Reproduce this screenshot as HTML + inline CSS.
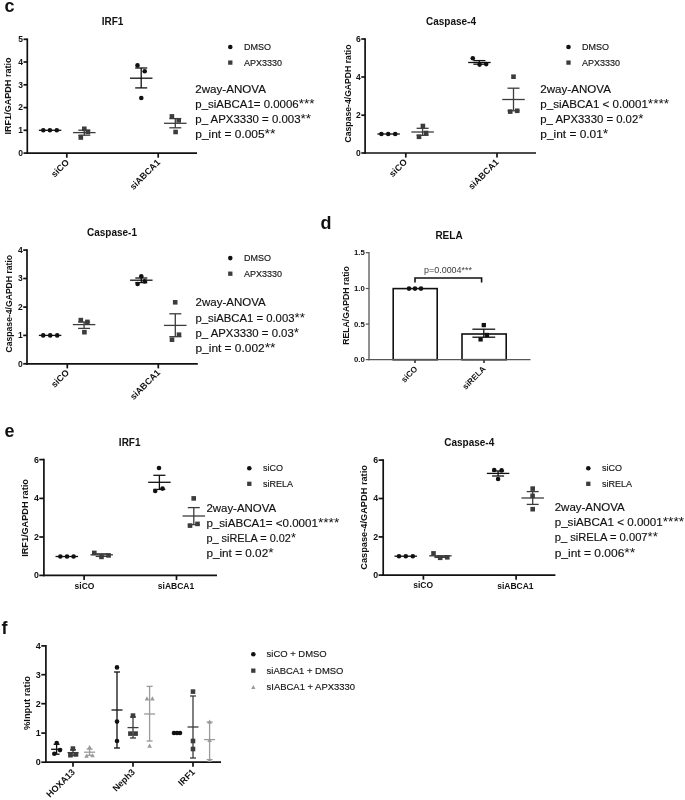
<!DOCTYPE html>
<html><head><meta charset="utf-8"><title>figure</title>
<style>
html,body{margin:0;padding:0;background:#fff;}
body{width:685px;height:800px;overflow:hidden;}
svg{display:block;font-family:"Liberation Sans",sans-serif;will-change:transform;filter:blur(0.3px);}
</style></head>
<body>
<svg width="685" height="800" viewBox="0 0 685 800">
<rect x="0" y="0" width="685" height="800" fill="#fff"/>
<text x="4.6" y="12.2" font-size="18" fill="#111" text-anchor="start" font-weight="bold" >c</text>
<text x="112.5" y="24.5" font-size="10" fill="#111" text-anchor="middle" font-weight="bold" >IRF1</text>
<line x1="27.3" y1="38.449999999999996" x2="27.3" y2="153.95" stroke="#111" stroke-width="1.7"/>
<line x1="23.5" y1="153.1" x2="27.3" y2="153.1" stroke="#111" stroke-width="1.7"/>
<text x="23.0" y="155.95" font-size="8.5" fill="#111" text-anchor="end" font-weight="bold" >0</text>
<line x1="23.5" y1="130.3" x2="27.3" y2="130.3" stroke="#111" stroke-width="1.7"/>
<text x="23.0" y="133.15" font-size="8.5" fill="#111" text-anchor="end" font-weight="bold" >1</text>
<line x1="23.5" y1="107.6" x2="27.3" y2="107.6" stroke="#111" stroke-width="1.7"/>
<text x="23.0" y="110.45" font-size="8.5" fill="#111" text-anchor="end" font-weight="bold" >2</text>
<line x1="23.5" y1="84.8" x2="27.3" y2="84.8" stroke="#111" stroke-width="1.7"/>
<text x="23.0" y="87.65" font-size="8.5" fill="#111" text-anchor="end" font-weight="bold" >3</text>
<line x1="23.5" y1="62.0" x2="27.3" y2="62.0" stroke="#111" stroke-width="1.7"/>
<text x="23.0" y="64.85" font-size="8.5" fill="#111" text-anchor="end" font-weight="bold" >4</text>
<line x1="23.5" y1="39.3" x2="27.3" y2="39.3" stroke="#111" stroke-width="1.7"/>
<text x="23.0" y="42.15" font-size="8.5" fill="#111" text-anchor="end" font-weight="bold" >5</text>
<line x1="26.45" y1="153.1" x2="197" y2="153.1" stroke="#111" stroke-width="1.7"/>
<line x1="66.8" y1="153.1" x2="66.8" y2="157.7" stroke="#111" stroke-width="1.7"/>
<line x1="158.2" y1="153.1" x2="158.2" y2="157.7" stroke="#111" stroke-width="1.7"/>
<text x="11.3" y="96.0" font-size="8.2" fill="#111" text-anchor="middle" font-weight="bold" textLength="77.0" lengthAdjust="spacingAndGlyphs" transform="rotate(-90 11.3 96.0)" >IRF1/GAPDH ratio</text>
<text x="69.6" y="163.0" font-size="9.0" fill="#111" text-anchor="end" font-weight="bold" transform="rotate(-45 69.6 163.0)" >siCO</text>
<text x="160.7" y="163.0" font-size="9.0" fill="#111" text-anchor="end" font-weight="bold" transform="rotate(-45 160.7 163.0)" >siABCA1</text>
<line x1="38.85" y1="130.3" x2="61.35" y2="130.3" stroke="#111" stroke-width="1.3"/>
<circle cx="43.3" cy="130.3" r="2.3" fill="#111"/>
<circle cx="49.9" cy="130.3" r="2.3" fill="#111"/>
<circle cx="56.8" cy="130.3" r="2.3" fill="#111"/>
<line x1="84.3" y1="130.2" x2="84.3" y2="135.2" stroke="#3c3c3c" stroke-width="1.3"/>
<line x1="78.3" y1="130.2" x2="90.3" y2="130.2" stroke="#3c3c3c" stroke-width="1.3"/>
<line x1="78.3" y1="135.2" x2="90.3" y2="135.2" stroke="#3c3c3c" stroke-width="1.3"/>
<line x1="73.05" y1="132.6" x2="95.55" y2="132.6" stroke="#3c3c3c" stroke-width="1.3"/>
<rect x="82.00" y="126.50" width="4.6" height="4.6" fill="#3c3c3c"/>
<rect x="85.60" y="129.60" width="4.6" height="4.6" fill="#3c3c3c"/>
<rect x="78.50" y="135.20" width="4.6" height="4.6" fill="#3c3c3c"/>
<line x1="141.2" y1="68.0" x2="141.2" y2="87.9" stroke="#111" stroke-width="1.3"/>
<line x1="135.2" y1="68.0" x2="147.2" y2="68.0" stroke="#111" stroke-width="1.3"/>
<line x1="135.2" y1="87.9" x2="147.2" y2="87.9" stroke="#111" stroke-width="1.3"/>
<line x1="129.95" y1="78.2" x2="152.45" y2="78.2" stroke="#111" stroke-width="1.3"/>
<circle cx="137.5" cy="65.4" r="2.3" fill="#111"/>
<circle cx="144.7" cy="71.2" r="2.3" fill="#111"/>
<circle cx="141.3" cy="98.0" r="2.3" fill="#111"/>
<line x1="175.3" y1="118.6" x2="175.3" y2="127.8" stroke="#3c3c3c" stroke-width="1.3"/>
<line x1="169.3" y1="118.6" x2="181.3" y2="118.6" stroke="#3c3c3c" stroke-width="1.3"/>
<line x1="169.3" y1="127.8" x2="181.3" y2="127.8" stroke="#3c3c3c" stroke-width="1.3"/>
<line x1="164.05" y1="123.3" x2="186.55" y2="123.3" stroke="#3c3c3c" stroke-width="1.3"/>
<rect x="169.60" y="114.10" width="4.6" height="4.6" fill="#3c3c3c"/>
<rect x="176.40" y="118.10" width="4.6" height="4.6" fill="#3c3c3c"/>
<rect x="173.30" y="129.70" width="4.6" height="4.6" fill="#3c3c3c"/>
<circle cx="230.3" cy="47.0" r="2.3" fill="#111"/>
<text x="243.9" y="49.9" font-size="9" fill="#141414" text-anchor="start" stroke="#141414" stroke-width="0.15">DMSO</text>
<rect x="228.15" y="60.45" width="4.3" height="4.3" fill="#3c3c3c"/>
<text x="243.9" y="65.5" font-size="9" fill="#141414" text-anchor="start" stroke="#141414" stroke-width="0.15">APX3330</text>
<text x="195.3" y="92.7" font-size="11" fill="#111" text-anchor="start" textLength="70.6" lengthAdjust="spacingAndGlyphs" stroke="#111" stroke-width="0.15">2way-ANOVA</text>
<text x="195.3" y="107.9" font-size="11" fill="#111" text-anchor="start" textLength="119.2" lengthAdjust="spacingAndGlyphs" stroke="#111" stroke-width="0.15">p_siABCA1= 0.0006<tspan font-size="13" stroke-width="0">***</tspan></text>
<text x="195.3" y="123.1" font-size="11" fill="#111" text-anchor="start" textLength="115.8" lengthAdjust="spacingAndGlyphs" stroke="#111" stroke-width="0.15">p_ APX3330 = 0.003<tspan font-size="13" stroke-width="0">**</tspan></text>
<text x="195.3" y="138.3" font-size="11" fill="#111" text-anchor="start" textLength="80.3" lengthAdjust="spacingAndGlyphs" stroke="#111" stroke-width="0.15">p_int = 0.005<tspan font-size="13" stroke-width="0">**</tspan></text>
<text x="451" y="24.5" font-size="10" fill="#111" text-anchor="middle" font-weight="bold" >Caspase-4</text>
<line x1="365.1" y1="38.15" x2="365.1" y2="153.85" stroke="#111" stroke-width="1.7"/>
<line x1="361.3" y1="153.0" x2="365.1" y2="153.0" stroke="#111" stroke-width="1.7"/>
<text x="360.8" y="155.85" font-size="8.5" fill="#111" text-anchor="end" font-weight="bold" >0</text>
<line x1="361.3" y1="115.2" x2="365.1" y2="115.2" stroke="#111" stroke-width="1.7"/>
<text x="360.8" y="118.05" font-size="8.5" fill="#111" text-anchor="end" font-weight="bold" >2</text>
<line x1="361.3" y1="77.0" x2="365.1" y2="77.0" stroke="#111" stroke-width="1.7"/>
<text x="360.8" y="79.85" font-size="8.5" fill="#111" text-anchor="end" font-weight="bold" >4</text>
<line x1="361.3" y1="39.0" x2="365.1" y2="39.0" stroke="#111" stroke-width="1.7"/>
<text x="360.8" y="41.85" font-size="8.5" fill="#111" text-anchor="end" font-weight="bold" >6</text>
<line x1="364.25" y1="153.0" x2="536" y2="153.0" stroke="#111" stroke-width="1.7"/>
<line x1="405.8" y1="153.0" x2="405.8" y2="157.6" stroke="#111" stroke-width="1.7"/>
<line x1="497.0" y1="153.0" x2="497.0" y2="157.6" stroke="#111" stroke-width="1.7"/>
<text x="350.9" y="93.5" font-size="8.2" fill="#111" text-anchor="middle" font-weight="bold" textLength="98.0" lengthAdjust="spacingAndGlyphs" transform="rotate(-90 350.9 93.5)" >Caspase-4/GAPDH ratio</text>
<text x="407.7" y="162.6" font-size="9.0" fill="#111" text-anchor="end" font-weight="bold" transform="rotate(-45 407.7 162.6)" >siCO</text>
<text x="499.3" y="162.8" font-size="9.0" fill="#111" text-anchor="end" font-weight="bold" transform="rotate(-45 499.3 162.8)" >siABCA1</text>
<line x1="377.35" y1="134.0" x2="399.85" y2="134.0" stroke="#111" stroke-width="1.3"/>
<circle cx="381.4" cy="134.0" r="2.3" fill="#111"/>
<circle cx="388.2" cy="134.0" r="2.3" fill="#111"/>
<circle cx="395.2" cy="134.0" r="2.3" fill="#111"/>
<line x1="422.6" y1="128.3" x2="422.6" y2="135.3" stroke="#3c3c3c" stroke-width="1.3"/>
<line x1="416.6" y1="128.3" x2="428.6" y2="128.3" stroke="#3c3c3c" stroke-width="1.3"/>
<line x1="416.6" y1="135.3" x2="428.6" y2="135.3" stroke="#3c3c3c" stroke-width="1.3"/>
<line x1="411.35" y1="132.0" x2="433.85" y2="132.0" stroke="#3c3c3c" stroke-width="1.3"/>
<rect x="420.60" y="123.70" width="4.6" height="4.6" fill="#3c3c3c"/>
<rect x="423.80" y="130.70" width="4.6" height="4.6" fill="#3c3c3c"/>
<rect x="416.70" y="134.50" width="4.6" height="4.6" fill="#3c3c3c"/>
<line x1="479.4" y1="60.6" x2="479.4" y2="64.2" stroke="#111" stroke-width="1.3"/>
<line x1="473.4" y1="60.6" x2="485.4" y2="60.6" stroke="#111" stroke-width="1.3"/>
<line x1="473.4" y1="64.2" x2="485.4" y2="64.2" stroke="#111" stroke-width="1.3"/>
<line x1="468.15" y1="62.5" x2="490.65" y2="62.5" stroke="#111" stroke-width="1.3"/>
<circle cx="472.8" cy="58.2" r="2.3" fill="#111"/>
<circle cx="479.6" cy="64.6" r="2.3" fill="#111"/>
<circle cx="486.2" cy="64.1" r="2.3" fill="#111"/>
<line x1="513.5" y1="88.2" x2="513.5" y2="110.8" stroke="#3c3c3c" stroke-width="1.3"/>
<line x1="507.5" y1="88.2" x2="519.5" y2="88.2" stroke="#3c3c3c" stroke-width="1.3"/>
<line x1="507.5" y1="110.8" x2="519.5" y2="110.8" stroke="#3c3c3c" stroke-width="1.3"/>
<line x1="502.25" y1="99.5" x2="524.75" y2="99.5" stroke="#3c3c3c" stroke-width="1.3"/>
<rect x="511.20" y="74.40" width="4.6" height="4.6" fill="#3c3c3c"/>
<rect x="507.90" y="109.30" width="4.6" height="4.6" fill="#3c3c3c"/>
<rect x="514.90" y="108.50" width="4.6" height="4.6" fill="#3c3c3c"/>
<circle cx="568.5" cy="47.0" r="2.3" fill="#111"/>
<text x="582.1" y="49.9" font-size="9" fill="#141414" text-anchor="start" stroke="#141414" stroke-width="0.15">DMSO</text>
<rect x="566.35" y="60.45" width="4.3" height="4.3" fill="#3c3c3c"/>
<text x="582.1" y="65.5" font-size="9" fill="#141414" text-anchor="start" stroke="#141414" stroke-width="0.15">APX3330</text>
<text x="540.3" y="92.7" font-size="11" fill="#111" text-anchor="start" textLength="70.6" lengthAdjust="spacingAndGlyphs" stroke="#111" stroke-width="0.15">2way-ANOVA</text>
<text x="540.3" y="107.9" font-size="11" fill="#111" text-anchor="start" textLength="128.8" lengthAdjust="spacingAndGlyphs" stroke="#111" stroke-width="0.15">p_siABCA1 &lt; 0.0001<tspan font-size="13" stroke-width="0">****</tspan></text>
<text x="540.3" y="123.1" font-size="11" fill="#111" text-anchor="start" textLength="103.1" lengthAdjust="spacingAndGlyphs" stroke="#111" stroke-width="0.15">p_ APX3330 = 0.02<tspan font-size="13" stroke-width="0">*</tspan></text>
<text x="540.3" y="138.3" font-size="11" fill="#111" text-anchor="start" textLength="68.0" lengthAdjust="spacingAndGlyphs" stroke="#111" stroke-width="0.15">p_int = 0.01<tspan font-size="13" stroke-width="0">*</tspan></text>
<text x="112" y="236" font-size="10" fill="#111" text-anchor="middle" font-weight="bold" >Caspase-1</text>
<line x1="27.0" y1="249.25" x2="27.0" y2="364.65000000000003" stroke="#111" stroke-width="1.7"/>
<line x1="23.2" y1="363.8" x2="27.0" y2="363.8" stroke="#111" stroke-width="1.7"/>
<text x="22.7" y="366.65" font-size="8.5" fill="#111" text-anchor="end" font-weight="bold" >0</text>
<line x1="23.2" y1="335.4" x2="27.0" y2="335.4" stroke="#111" stroke-width="1.7"/>
<text x="22.7" y="338.25" font-size="8.5" fill="#111" text-anchor="end" font-weight="bold" >1</text>
<line x1="23.2" y1="307.1" x2="27.0" y2="307.1" stroke="#111" stroke-width="1.7"/>
<text x="22.7" y="309.95" font-size="8.5" fill="#111" text-anchor="end" font-weight="bold" >2</text>
<line x1="23.2" y1="278.5" x2="27.0" y2="278.5" stroke="#111" stroke-width="1.7"/>
<text x="22.7" y="281.35" font-size="8.5" fill="#111" text-anchor="end" font-weight="bold" >3</text>
<line x1="23.2" y1="250.1" x2="27.0" y2="250.1" stroke="#111" stroke-width="1.7"/>
<text x="22.7" y="252.95" font-size="8.5" fill="#111" text-anchor="end" font-weight="bold" >4</text>
<line x1="26.15" y1="363.8" x2="197.8" y2="363.8" stroke="#111" stroke-width="1.7"/>
<line x1="67.3" y1="363.8" x2="67.3" y2="368.40000000000003" stroke="#111" stroke-width="1.7"/>
<line x1="158.3" y1="363.8" x2="158.3" y2="368.40000000000003" stroke="#111" stroke-width="1.7"/>
<text x="11.7" y="303.7" font-size="8.2" fill="#111" text-anchor="middle" font-weight="bold" textLength="97.6" lengthAdjust="spacingAndGlyphs" transform="rotate(-90 11.7 303.7)" >Caspase-4/GAPDH ratio</text>
<text x="69.6" y="373.2" font-size="9.0" fill="#111" text-anchor="end" font-weight="bold" transform="rotate(-45 69.6 373.2)" >siCO</text>
<text x="160.9" y="373.1" font-size="9.0" fill="#111" text-anchor="end" font-weight="bold" transform="rotate(-45 160.9 373.1)" >siABCA1</text>
<line x1="38.85" y1="335.4" x2="61.35" y2="335.4" stroke="#111" stroke-width="1.3"/>
<circle cx="43.2" cy="335.4" r="2.3" fill="#111"/>
<circle cx="50.2" cy="335.4" r="2.3" fill="#111"/>
<circle cx="57.2" cy="335.4" r="2.3" fill="#111"/>
<line x1="84.1" y1="322.0" x2="84.1" y2="328.4" stroke="#3c3c3c" stroke-width="1.3"/>
<line x1="78.1" y1="322.0" x2="90.1" y2="322.0" stroke="#3c3c3c" stroke-width="1.3"/>
<line x1="78.1" y1="328.4" x2="90.1" y2="328.4" stroke="#3c3c3c" stroke-width="1.3"/>
<line x1="72.85" y1="324.6" x2="95.35" y2="324.6" stroke="#3c3c3c" stroke-width="1.3"/>
<rect x="78.50" y="317.80" width="4.6" height="4.6" fill="#3c3c3c"/>
<rect x="85.10" y="319.60" width="4.6" height="4.6" fill="#3c3c3c"/>
<rect x="82.10" y="329.90" width="4.6" height="4.6" fill="#3c3c3c"/>
<line x1="141.3" y1="278.0" x2="141.3" y2="282.6" stroke="#111" stroke-width="1.3"/>
<line x1="135.3" y1="278.0" x2="147.3" y2="278.0" stroke="#111" stroke-width="1.3"/>
<line x1="135.3" y1="282.6" x2="147.3" y2="282.6" stroke="#111" stroke-width="1.3"/>
<line x1="130.05" y1="280.2" x2="152.55" y2="280.2" stroke="#111" stroke-width="1.3"/>
<circle cx="141.3" cy="276.2" r="2.3" fill="#111"/>
<circle cx="137.6" cy="284.0" r="2.3" fill="#111"/>
<circle cx="144.8" cy="281.4" r="2.3" fill="#111"/>
<line x1="175.3" y1="313.8" x2="175.3" y2="336.7" stroke="#3c3c3c" stroke-width="1.3"/>
<line x1="169.3" y1="313.8" x2="181.3" y2="313.8" stroke="#3c3c3c" stroke-width="1.3"/>
<line x1="169.3" y1="336.7" x2="181.3" y2="336.7" stroke="#3c3c3c" stroke-width="1.3"/>
<line x1="164.05" y1="325.4" x2="186.55" y2="325.4" stroke="#3c3c3c" stroke-width="1.3"/>
<rect x="172.90" y="300.00" width="4.6" height="4.6" fill="#3c3c3c"/>
<rect x="176.70" y="332.40" width="4.6" height="4.6" fill="#3c3c3c"/>
<rect x="169.70" y="337.40" width="4.6" height="4.6" fill="#3c3c3c"/>
<circle cx="230.3" cy="258.1" r="2.3" fill="#111"/>
<text x="243.9" y="261.0" font-size="9" fill="#141414" text-anchor="start" stroke="#141414" stroke-width="0.15">DMSO</text>
<rect x="228.15" y="271.55" width="4.3" height="4.3" fill="#3c3c3c"/>
<text x="243.9" y="276.6" font-size="9" fill="#141414" text-anchor="start" stroke="#141414" stroke-width="0.15">APX3330</text>
<text x="195.5" y="306.4" font-size="11" fill="#111" text-anchor="start" textLength="70.2" lengthAdjust="spacingAndGlyphs" stroke="#111" stroke-width="0.15">2way-ANOVA</text>
<text x="195.5" y="321.6" font-size="11" fill="#111" text-anchor="start" textLength="109.4" lengthAdjust="spacingAndGlyphs" stroke="#111" stroke-width="0.15">p_siABCA1 = 0.003<tspan font-size="13" stroke-width="0">**</tspan></text>
<text x="195.5" y="336.8" font-size="11" fill="#111" text-anchor="start" textLength="103.5" lengthAdjust="spacingAndGlyphs" stroke="#111" stroke-width="0.15">p_ APX3330 = 0.03<tspan font-size="13" stroke-width="0">*</tspan></text>
<text x="195.5" y="352.0" font-size="11" fill="#111" text-anchor="start" textLength="80.1" lengthAdjust="spacingAndGlyphs" stroke="#111" stroke-width="0.15">p_int = 0.002<tspan font-size="13" stroke-width="0">**</tspan></text>
<text x="320.5" y="229" font-size="18" fill="#111" text-anchor="start" font-weight="bold" >d</text>
<text x="449" y="238.8" font-size="10" fill="#111" text-anchor="middle" font-weight="bold" >RELA</text>
<rect x="393.2" y="288.6" width="44" height="71.1" fill="#fff" stroke="#111" stroke-width="1.6"/>
<rect x="462.0" y="334.0" width="44.2" height="25.7" fill="#fff" stroke="#111" stroke-width="1.6"/>
<line x1="369.0" y1="252.0" x2="369.0" y2="360.25" stroke="#555" stroke-width="1.3"/>
<line x1="365.8" y1="359.6" x2="369.0" y2="359.6" stroke="#555" stroke-width="1.2"/>
<text x="364.8" y="362.21" font-size="7.8" fill="#111" text-anchor="end" font-weight="bold" >0.0</text>
<line x1="365.8" y1="324.1" x2="369.0" y2="324.1" stroke="#555" stroke-width="1.2"/>
<text x="364.8" y="326.71" font-size="7.8" fill="#111" text-anchor="end" font-weight="bold" >0.5</text>
<line x1="365.8" y1="288.5" x2="369.0" y2="288.5" stroke="#555" stroke-width="1.2"/>
<text x="364.8" y="291.11" font-size="7.8" fill="#111" text-anchor="end" font-weight="bold" >1.0</text>
<line x1="365.8" y1="252.7" x2="369.0" y2="252.7" stroke="#555" stroke-width="1.2"/>
<text x="364.8" y="255.31" font-size="7.8" fill="#111" text-anchor="end" font-weight="bold" >1.5</text>
<line x1="368.35" y1="359.6" x2="530.5" y2="359.6" stroke="#555" stroke-width="1.3"/>
<line x1="415.0" y1="359.6" x2="415.0" y2="363.0" stroke="#555" stroke-width="1.1"/>
<line x1="484.0" y1="359.6" x2="484.0" y2="363.0" stroke="#555" stroke-width="1.1"/>
<line x1="415.0" y1="360.2" x2="415.0" y2="363.0" stroke="#222" stroke-width="1.1"/>
<line x1="484.0" y1="360.2" x2="484.0" y2="363.0" stroke="#222" stroke-width="1.1"/>
<text x="349.1" y="305.5" font-size="8.2" fill="#111" text-anchor="middle" font-weight="bold" textLength="78.6" lengthAdjust="spacingAndGlyphs" transform="rotate(-90 349.1 305.5)" >RELA/GAPDH ratio</text>
<text x="418.0" y="369.4" font-size="8.2" fill="#111" text-anchor="end" font-weight="bold" transform="rotate(-45 418.0 369.4)" >siCO</text>
<text x="486.3" y="369.4" font-size="8.2" fill="#111" text-anchor="end" font-weight="bold" transform="rotate(-45 486.3 369.4)" >siRELA</text>
<circle cx="409.0" cy="288.6" r="2.3" fill="#111"/>
<circle cx="415.0" cy="288.6" r="2.3" fill="#111"/>
<circle cx="421.0" cy="288.6" r="2.3" fill="#111"/>
<line x1="472.4" y1="329.2" x2="495.2" y2="329.2" stroke="#111" stroke-width="1.3"/>
<line x1="472.4" y1="337.2" x2="495.2" y2="337.2" stroke="#111" stroke-width="1.3"/>
<line x1="483.8" y1="329.2" x2="483.8" y2="337.2" stroke="#111" stroke-width="1.3"/>
<rect x="481.65" y="322.95" width="4.3" height="4.3" fill="#111"/>
<rect x="484.85" y="332.85" width="4.3" height="4.3" fill="#111"/>
<rect x="478.45" y="337.25" width="4.3" height="4.3" fill="#111"/>
<polyline points="415,282.6 415,278.0 481.6,278.0 481.6,282.6" fill="none" stroke="#111" stroke-width="1.6"/>
<text x="424.0" y="273.2" font-size="8.3" fill="#404040" text-anchor="start" textLength="48.0" lengthAdjust="spacingAndGlyphs" >p=0.0004***</text>
<text x="4.6" y="436.5" font-size="18" fill="#111" text-anchor="start" font-weight="bold" >e</text>
<text x="129.7" y="445.5" font-size="10" fill="#111" text-anchor="middle" font-weight="bold" >IRF1</text>
<line x1="43.9" y1="458.75" x2="43.9" y2="576.25" stroke="#111" stroke-width="1.7"/>
<line x1="39.3" y1="575.4" x2="43.9" y2="575.4" stroke="#111" stroke-width="1.7"/>
<text x="38.8" y="578.35" font-size="8.8" fill="#111" text-anchor="end" font-weight="bold" >0</text>
<line x1="39.3" y1="537.0" x2="43.9" y2="537.0" stroke="#111" stroke-width="1.7"/>
<text x="38.8" y="539.95" font-size="8.8" fill="#111" text-anchor="end" font-weight="bold" >2</text>
<line x1="39.3" y1="498.4" x2="43.9" y2="498.4" stroke="#111" stroke-width="1.7"/>
<text x="38.8" y="501.35" font-size="8.8" fill="#111" text-anchor="end" font-weight="bold" >4</text>
<line x1="39.3" y1="459.6" x2="43.9" y2="459.6" stroke="#111" stroke-width="1.7"/>
<text x="38.8" y="462.55" font-size="8.8" fill="#111" text-anchor="end" font-weight="bold" >6</text>
<line x1="43.05" y1="575.4" x2="217" y2="575.4" stroke="#111" stroke-width="1.7"/>
<line x1="84.1" y1="575.4" x2="84.1" y2="580.0" stroke="#111" stroke-width="1.7"/>
<line x1="176.5" y1="575.4" x2="176.5" y2="580.0" stroke="#111" stroke-width="1.7"/>
<text x="28.2" y="518.0" font-size="8.2" fill="#111" text-anchor="middle" font-weight="bold" textLength="77.6" lengthAdjust="spacingAndGlyphs" transform="rotate(-90 28.2 518.0)" >IRF1/GAPDH ratio</text>
<text x="84.5" y="588.6" font-size="8.5" fill="#111" text-anchor="middle" font-weight="bold" >siCO</text>
<text x="176.0" y="588.6" font-size="8.5" fill="#111" text-anchor="middle" font-weight="bold" >siABCA1</text>
<line x1="55.55" y1="556.5" x2="78.05" y2="556.5" stroke="#111" stroke-width="1.3"/>
<circle cx="60.3" cy="556.5" r="2.3" fill="#111"/>
<circle cx="67.0" cy="556.5" r="2.3" fill="#111"/>
<circle cx="73.6" cy="556.5" r="2.3" fill="#111"/>
<line x1="101.7" y1="553.8" x2="101.7" y2="556.4" stroke="#3c3c3c" stroke-width="1.3"/>
<line x1="95.7" y1="553.8" x2="107.7" y2="553.8" stroke="#3c3c3c" stroke-width="1.3"/>
<line x1="95.7" y1="556.4" x2="107.7" y2="556.4" stroke="#3c3c3c" stroke-width="1.3"/>
<line x1="90.45" y1="554.8" x2="112.95" y2="554.8" stroke="#3c3c3c" stroke-width="1.3"/>
<rect x="92.00" y="550.60" width="4.6" height="4.6" fill="#3c3c3c"/>
<rect x="99.20" y="554.60" width="4.6" height="4.6" fill="#3c3c3c"/>
<rect x="106.30" y="553.10" width="4.6" height="4.6" fill="#3c3c3c"/>
<line x1="159.4" y1="475.3" x2="159.4" y2="489.4" stroke="#111" stroke-width="1.3"/>
<line x1="153.4" y1="475.3" x2="165.4" y2="475.3" stroke="#111" stroke-width="1.3"/>
<line x1="153.4" y1="489.4" x2="165.4" y2="489.4" stroke="#111" stroke-width="1.3"/>
<line x1="148.15" y1="482.3" x2="170.65" y2="482.3" stroke="#111" stroke-width="1.3"/>
<circle cx="159.0" cy="468.0" r="2.3" fill="#111"/>
<circle cx="155.2" cy="491.0" r="2.3" fill="#111"/>
<circle cx="162.5" cy="488.6" r="2.3" fill="#111"/>
<line x1="193.8" y1="507.6" x2="193.8" y2="524.6" stroke="#3c3c3c" stroke-width="1.3"/>
<line x1="187.8" y1="507.6" x2="199.8" y2="507.6" stroke="#3c3c3c" stroke-width="1.3"/>
<line x1="187.8" y1="524.6" x2="199.8" y2="524.6" stroke="#3c3c3c" stroke-width="1.3"/>
<line x1="182.55" y1="516.0" x2="205.05" y2="516.0" stroke="#3c3c3c" stroke-width="1.3"/>
<rect x="191.40" y="496.10" width="4.6" height="4.6" fill="#3c3c3c"/>
<rect x="187.70" y="523.30" width="4.6" height="4.6" fill="#3c3c3c"/>
<rect x="195.20" y="521.60" width="4.6" height="4.6" fill="#3c3c3c"/>
<circle cx="249.3" cy="468.2" r="2.3" fill="#111"/>
<text x="262.90000000000003" y="471.1" font-size="9" fill="#141414" text-anchor="start" stroke="#141414" stroke-width="0.15">siCO</text>
<rect x="247.15" y="481.65" width="4.3" height="4.3" fill="#3c3c3c"/>
<text x="262.90000000000003" y="486.7" font-size="9" fill="#141414" text-anchor="start" stroke="#141414" stroke-width="0.15">siRELA</text>
<text x="206.4" y="511.5" font-size="11" fill="#111" text-anchor="start" textLength="69.8" lengthAdjust="spacingAndGlyphs" stroke="#111" stroke-width="0.15">2way-ANOVA</text>
<text x="206.4" y="526.7" font-size="11" fill="#111" text-anchor="start" textLength="132.9" lengthAdjust="spacingAndGlyphs" stroke="#111" stroke-width="0.15">p_siABCA1= &lt;0.0001<tspan font-size="13" stroke-width="0">****</tspan></text>
<text x="206.4" y="541.9" font-size="11" fill="#111" text-anchor="start" textLength="89.5" lengthAdjust="spacingAndGlyphs" stroke="#111" stroke-width="0.15">p_ siRELA = 0.02<tspan font-size="13" stroke-width="0">*</tspan></text>
<text x="206.4" y="557.1" font-size="11" fill="#111" text-anchor="start" textLength="67.2" lengthAdjust="spacingAndGlyphs" stroke="#111" stroke-width="0.15">p_int = 0.02<tspan font-size="13" stroke-width="0">*</tspan></text>
<text x="469.2" y="445.5" font-size="10" fill="#111" text-anchor="middle" font-weight="bold" >Caspase-4</text>
<line x1="383.2" y1="459.25" x2="383.2" y2="575.95" stroke="#111" stroke-width="1.7"/>
<line x1="378.59999999999997" y1="575.1" x2="383.2" y2="575.1" stroke="#111" stroke-width="1.7"/>
<text x="378.09999999999997" y="578.05" font-size="8.8" fill="#111" text-anchor="end" font-weight="bold" >0</text>
<line x1="378.59999999999997" y1="536.9" x2="383.2" y2="536.9" stroke="#111" stroke-width="1.7"/>
<text x="378.09999999999997" y="539.85" font-size="8.8" fill="#111" text-anchor="end" font-weight="bold" >2</text>
<line x1="378.59999999999997" y1="498.5" x2="383.2" y2="498.5" stroke="#111" stroke-width="1.7"/>
<text x="378.09999999999997" y="501.45" font-size="8.8" fill="#111" text-anchor="end" font-weight="bold" >4</text>
<line x1="378.59999999999997" y1="460.1" x2="383.2" y2="460.1" stroke="#111" stroke-width="1.7"/>
<text x="378.09999999999997" y="463.05" font-size="8.8" fill="#111" text-anchor="end" font-weight="bold" >6</text>
<line x1="382.34999999999997" y1="575.1" x2="555.4" y2="575.1" stroke="#111" stroke-width="1.7"/>
<line x1="423.4" y1="575.1" x2="423.4" y2="579.7" stroke="#111" stroke-width="1.7"/>
<line x1="516.1" y1="575.1" x2="516.1" y2="579.7" stroke="#111" stroke-width="1.7"/>
<text x="367.2" y="517.4" font-size="8.2" fill="#111" text-anchor="middle" font-weight="bold" textLength="104.6" lengthAdjust="spacingAndGlyphs" transform="rotate(-90 367.2 517.4)" >Caspase-4/GAPDH ratio</text>
<text x="423.2" y="588.3" font-size="8.5" fill="#111" text-anchor="middle" font-weight="bold" >siCO</text>
<text x="515.4" y="588.6" font-size="8.5" fill="#111" text-anchor="middle" font-weight="bold" >siABCA1</text>
<line x1="394.45" y1="556.2" x2="416.95" y2="556.2" stroke="#111" stroke-width="1.3"/>
<circle cx="399.0" cy="556.2" r="2.3" fill="#111"/>
<circle cx="405.8" cy="556.2" r="2.3" fill="#111"/>
<circle cx="412.8" cy="556.2" r="2.3" fill="#111"/>
<line x1="440.4" y1="556.2" x2="440.4" y2="557.4" stroke="#3c3c3c" stroke-width="1.3"/>
<line x1="434.4" y1="556.2" x2="446.4" y2="556.2" stroke="#3c3c3c" stroke-width="1.3"/>
<line x1="434.4" y1="557.4" x2="446.4" y2="557.4" stroke="#3c3c3c" stroke-width="1.3"/>
<line x1="429.15" y1="555.8" x2="451.65" y2="555.8" stroke="#3c3c3c" stroke-width="1.3"/>
<rect x="431.20" y="551.10" width="4.6" height="4.6" fill="#3c3c3c"/>
<rect x="437.90" y="555.50" width="4.6" height="4.6" fill="#3c3c3c"/>
<rect x="445.00" y="555.00" width="4.6" height="4.6" fill="#3c3c3c"/>
<line x1="498.1" y1="471.0" x2="498.1" y2="476.0" stroke="#111" stroke-width="1.3"/>
<line x1="492.1" y1="471.0" x2="504.1" y2="471.0" stroke="#111" stroke-width="1.3"/>
<line x1="492.1" y1="476.0" x2="504.1" y2="476.0" stroke="#111" stroke-width="1.3"/>
<line x1="486.85" y1="473.4" x2="509.35" y2="473.4" stroke="#111" stroke-width="1.3"/>
<circle cx="494.2" cy="470.0" r="2.3" fill="#111"/>
<circle cx="501.6" cy="470.4" r="2.3" fill="#111"/>
<circle cx="498.1" cy="479.0" r="2.3" fill="#111"/>
<line x1="532.7" y1="491.6" x2="532.7" y2="504.4" stroke="#3c3c3c" stroke-width="1.3"/>
<line x1="526.7" y1="491.6" x2="538.7" y2="491.6" stroke="#3c3c3c" stroke-width="1.3"/>
<line x1="526.7" y1="504.4" x2="538.7" y2="504.4" stroke="#3c3c3c" stroke-width="1.3"/>
<line x1="521.45" y1="498.0" x2="543.95" y2="498.0" stroke="#3c3c3c" stroke-width="1.3"/>
<rect x="530.40" y="486.30" width="4.6" height="4.6" fill="#3c3c3c"/>
<rect x="530.30" y="493.60" width="4.6" height="4.6" fill="#3c3c3c"/>
<rect x="530.40" y="506.90" width="4.6" height="4.6" fill="#3c3c3c"/>
<circle cx="588.3" cy="468.2" r="2.3" fill="#111"/>
<text x="601.9" y="471.1" font-size="9" fill="#141414" text-anchor="start" stroke="#141414" stroke-width="0.15">siCO</text>
<rect x="586.15" y="481.65" width="4.3" height="4.3" fill="#3c3c3c"/>
<text x="601.9" y="486.7" font-size="9" fill="#141414" text-anchor="start" stroke="#141414" stroke-width="0.15">siRELA</text>
<text x="554.7" y="510.9" font-size="11" fill="#111" text-anchor="start" textLength="70.1" lengthAdjust="spacingAndGlyphs" stroke="#111" stroke-width="0.15">2way-ANOVA</text>
<text x="554.7" y="526.1" font-size="11" fill="#111" text-anchor="start" textLength="129.4" lengthAdjust="spacingAndGlyphs" stroke="#111" stroke-width="0.15">p_siABCA1 &lt; 0.0001<tspan font-size="13" stroke-width="0">****</tspan></text>
<text x="554.7" y="541.3" font-size="11" fill="#111" text-anchor="start" textLength="103.2" lengthAdjust="spacingAndGlyphs" stroke="#111" stroke-width="0.15">p_ siRELA = 0.007<tspan font-size="13" stroke-width="0">**</tspan></text>
<text x="554.7" y="556.5" font-size="11" fill="#111" text-anchor="start" textLength="80.7" lengthAdjust="spacingAndGlyphs" stroke="#111" stroke-width="0.15">p_int = 0.006<tspan font-size="13" stroke-width="0">**</tspan></text>
<text x="1.6" y="633.5" font-size="18" fill="#111" text-anchor="start" font-weight="bold" >f</text>
<line x1="45.9" y1="645.05" x2="45.9" y2="763.0500000000001" stroke="#111" stroke-width="1.7"/>
<line x1="41.3" y1="762.2" x2="45.9" y2="762.2" stroke="#111" stroke-width="1.7"/>
<text x="40.8" y="765.22" font-size="9.0" fill="#111" text-anchor="end" font-weight="bold" >0</text>
<line x1="41.3" y1="733.1" x2="45.9" y2="733.1" stroke="#111" stroke-width="1.7"/>
<text x="40.8" y="736.12" font-size="9.0" fill="#111" text-anchor="end" font-weight="bold" >1</text>
<line x1="41.3" y1="703.7" x2="45.9" y2="703.7" stroke="#111" stroke-width="1.7"/>
<text x="40.8" y="706.72" font-size="9.0" fill="#111" text-anchor="end" font-weight="bold" >2</text>
<line x1="41.3" y1="674.7" x2="45.9" y2="674.7" stroke="#111" stroke-width="1.7"/>
<text x="40.8" y="677.72" font-size="9.0" fill="#111" text-anchor="end" font-weight="bold" >3</text>
<line x1="41.3" y1="645.9" x2="45.9" y2="645.9" stroke="#111" stroke-width="1.7"/>
<text x="40.8" y="648.91" font-size="9.0" fill="#111" text-anchor="end" font-weight="bold" >4</text>
<line x1="45.05" y1="762.2" x2="221" y2="762.2" stroke="#111" stroke-width="1.7"/>
<line x1="73.0" y1="762.2" x2="73.0" y2="766.8000000000001" stroke="#111" stroke-width="1.7"/>
<line x1="133.0" y1="762.2" x2="133.0" y2="766.8000000000001" stroke="#111" stroke-width="1.7"/>
<line x1="193.0" y1="762.2" x2="193.0" y2="766.8000000000001" stroke="#111" stroke-width="1.7"/>
<text x="29.6" y="703.0" font-size="8.2" fill="#111" text-anchor="middle" font-weight="bold" textLength="54.0" lengthAdjust="spacingAndGlyphs" transform="rotate(-90 29.6 703.0)" >%Input ratio</text>
<text x="75.6" y="772.6" font-size="9.0" fill="#111" text-anchor="end" font-weight="bold" transform="rotate(-45 75.6 772.6)" >HOXA13</text>
<text x="135.6" y="772.6" font-size="9.0" fill="#111" text-anchor="end" font-weight="bold" transform="rotate(-45 135.6 772.6)" >Neph3</text>
<text x="195.6" y="772.6" font-size="9.0" fill="#111" text-anchor="end" font-weight="bold" transform="rotate(-45 195.6 772.6)" >IRF1</text>
<line x1="56.6" y1="744.3" x2="56.6" y2="754.2" stroke="#111" stroke-width="1.3"/>
<line x1="53.6" y1="744.3" x2="59.6" y2="744.3" stroke="#111" stroke-width="1.3"/>
<line x1="53.6" y1="754.2" x2="59.6" y2="754.2" stroke="#111" stroke-width="1.3"/>
<line x1="51.1" y1="749.3" x2="62.1" y2="749.3" stroke="#111" stroke-width="1.3"/>
<circle cx="56.7" cy="743.0" r="2.3" fill="#111"/>
<circle cx="60.0" cy="750.1" r="2.3" fill="#111"/>
<circle cx="54.3" cy="753.7" r="2.3" fill="#111"/>
<line x1="73.0" y1="749.8" x2="73.0" y2="755.6" stroke="#3c3c3c" stroke-width="1.3"/>
<line x1="70.0" y1="749.8" x2="76.0" y2="749.8" stroke="#3c3c3c" stroke-width="1.3"/>
<line x1="70.0" y1="755.6" x2="76.0" y2="755.6" stroke="#3c3c3c" stroke-width="1.3"/>
<line x1="67.5" y1="752.6" x2="78.5" y2="752.6" stroke="#3c3c3c" stroke-width="1.3"/>
<rect x="70.60" y="746.30" width="4.6" height="4.6" fill="#3c3c3c"/>
<rect x="68.10" y="752.90" width="4.6" height="4.6" fill="#3c3c3c"/>
<rect x="73.70" y="752.10" width="4.6" height="4.6" fill="#3c3c3c"/>
<line x1="89.6" y1="749.1" x2="89.6" y2="755.3" stroke="#9a9a9a" stroke-width="1.3"/>
<line x1="86.6" y1="749.1" x2="92.6" y2="749.1" stroke="#9a9a9a" stroke-width="1.3"/>
<line x1="86.6" y1="755.3" x2="92.6" y2="755.3" stroke="#9a9a9a" stroke-width="1.3"/>
<line x1="84.1" y1="752.2" x2="95.1" y2="752.2" stroke="#9a9a9a" stroke-width="1.3"/>
<polygon points="89.60,744.93 87.30,749.07 91.90,749.07" fill="#9a9a9a"/>
<polygon points="86.50,753.73 84.20,757.87 88.80,757.87" fill="#9a9a9a"/>
<polygon points="92.60,753.23 90.30,757.37 94.90,757.37" fill="#9a9a9a"/>
<line x1="117.0" y1="672.0" x2="117.0" y2="748.0" stroke="#111" stroke-width="1.3"/>
<line x1="114.0" y1="672.0" x2="120.0" y2="672.0" stroke="#111" stroke-width="1.3"/>
<line x1="114.0" y1="748.0" x2="120.0" y2="748.0" stroke="#111" stroke-width="1.3"/>
<line x1="111.5" y1="710.0" x2="122.5" y2="710.0" stroke="#111" stroke-width="1.3"/>
<circle cx="117.0" cy="667.4" r="2.3" fill="#111"/>
<circle cx="117.0" cy="721.6" r="2.3" fill="#111"/>
<circle cx="117.0" cy="741.0" r="2.3" fill="#111"/>
<line x1="133.0" y1="717.0" x2="133.0" y2="738.0" stroke="#3c3c3c" stroke-width="1.3"/>
<line x1="130.0" y1="717.0" x2="136.0" y2="717.0" stroke="#3c3c3c" stroke-width="1.3"/>
<line x1="130.0" y1="738.0" x2="136.0" y2="738.0" stroke="#3c3c3c" stroke-width="1.3"/>
<line x1="127.5" y1="727.6" x2="138.5" y2="727.6" stroke="#3c3c3c" stroke-width="1.3"/>
<rect x="130.70" y="713.30" width="4.6" height="4.6" fill="#3c3c3c"/>
<rect x="128.10" y="731.30" width="4.6" height="4.6" fill="#3c3c3c"/>
<rect x="133.30" y="731.30" width="4.6" height="4.6" fill="#3c3c3c"/>
<line x1="149.6" y1="686.4" x2="149.6" y2="741.0" stroke="#9a9a9a" stroke-width="1.3"/>
<line x1="146.6" y1="686.4" x2="152.6" y2="686.4" stroke="#9a9a9a" stroke-width="1.3"/>
<line x1="146.6" y1="741.0" x2="152.6" y2="741.0" stroke="#9a9a9a" stroke-width="1.3"/>
<line x1="144.1" y1="714.0" x2="155.1" y2="714.0" stroke="#9a9a9a" stroke-width="1.3"/>
<polygon points="147.00,696.33 144.70,700.47 149.30,700.47" fill="#9a9a9a"/>
<polygon points="152.40,696.33 150.10,700.47 154.70,700.47" fill="#9a9a9a"/>
<polygon points="149.60,743.53 147.30,747.67 151.90,747.67" fill="#9a9a9a"/>
<line x1="173.0" y1="733.0" x2="181.0" y2="733.0" stroke="#111" stroke-width="1.3"/>
<circle cx="174.0" cy="733.0" r="2.3" fill="#111"/>
<circle cx="177.0" cy="733.0" r="2.3" fill="#111"/>
<circle cx="180.0" cy="733.0" r="2.3" fill="#111"/>
<line x1="193.0" y1="696.0" x2="193.0" y2="758.0" stroke="#3c3c3c" stroke-width="1.3"/>
<line x1="190.0" y1="696.0" x2="196.0" y2="696.0" stroke="#3c3c3c" stroke-width="1.3"/>
<line x1="190.0" y1="758.0" x2="196.0" y2="758.0" stroke="#3c3c3c" stroke-width="1.3"/>
<line x1="187.5" y1="727.0" x2="198.5" y2="727.0" stroke="#3c3c3c" stroke-width="1.3"/>
<rect x="190.70" y="689.30" width="4.6" height="4.6" fill="#3c3c3c"/>
<rect x="190.70" y="738.70" width="4.6" height="4.6" fill="#3c3c3c"/>
<rect x="190.70" y="746.70" width="4.6" height="4.6" fill="#3c3c3c"/>
<line x1="209.6" y1="722.0" x2="209.6" y2="759.6" stroke="#9a9a9a" stroke-width="1.3"/>
<line x1="206.6" y1="722.0" x2="212.6" y2="722.0" stroke="#9a9a9a" stroke-width="1.3"/>
<line x1="206.6" y1="759.6" x2="212.6" y2="759.6" stroke="#9a9a9a" stroke-width="1.3"/>
<line x1="204.1" y1="739.6" x2="215.1" y2="739.6" stroke="#9a9a9a" stroke-width="1.3"/>
<polygon points="209.60,719.53 207.30,723.67 211.90,723.67" fill="#9a9a9a"/>
<polygon points="209.60,737.93 207.30,742.07 211.90,742.07" fill="#9a9a9a"/>
<polygon points="209.60,757.93 207.30,762.07 211.90,762.07" fill="#9a9a9a"/>
<circle cx="253.3" cy="654.3" r="2.3" fill="#111"/>
<text x="266.6" y="657.2" font-size="9.45" fill="#141414" text-anchor="start" stroke="#141414" stroke-width="0.15">siCO + DMSO</text>
<rect x="251.15" y="668.50" width="4.3" height="4.3" fill="#3c3c3c"/>
<text x="266.6" y="673.55" font-size="9.45" fill="#141414" text-anchor="start" stroke="#141414" stroke-width="0.15">siABCA1 + DMSO</text>
<polygon points="253.30,685.11 251.20,688.89 255.40,688.89" fill="#9a9a9a"/>
<text x="266.6" y="689.9" font-size="9.45" fill="#141414" text-anchor="start" stroke="#141414" stroke-width="0.15">sIABCA1 + APX3330</text>
</svg>
</body></html>
